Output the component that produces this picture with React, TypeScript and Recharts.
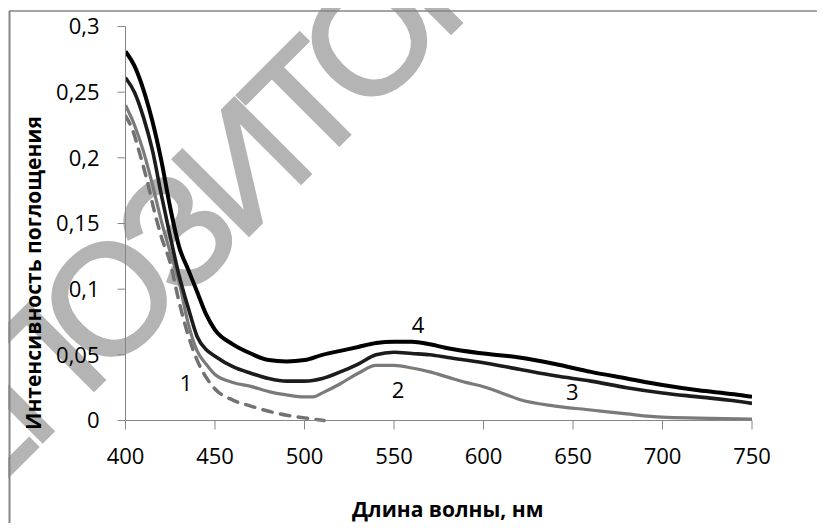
import { Label, Line, LineChart, ReferenceDot, XAxis, YAxis } from 'recharts';

// wavelength, nm -> absorbance
const curve1 = [
  [400, 0.232], [404, 0.221], [408, 0.203], [412, 0.183], [416, 0.16], [420, 0.14],
  [425, 0.12], [430, 0.09], [435, 0.065], [440, 0.046], [445, 0.033], [450, 0.024],
  [460, 0.0155], [470, 0.011], [480, 0.007], [490, 0.004], [500, 0.002], [511, 0],
];
const curve2 = [
  [400, 0.24], [405, 0.225], [410, 0.205], [415, 0.18], [420, 0.152], [425, 0.128],
  [430, 0.105], [435, 0.074], [440, 0.053], [445, 0.043], [450, 0.035], [460, 0.029],
  [470, 0.026], [480, 0.022], [490, 0.0195], [500, 0.018], [505, 0.018], [510, 0.021],
  [520, 0.028], [530, 0.036], [540, 0.042], [550, 0.042], [560, 0.04], [570, 0.037],
  [580, 0.033], [590, 0.029], [600, 0.0257], [610, 0.021], [620, 0.016], [640, 0.011],
  [660, 0.008], [680, 0.005], [700, 0.0025], [720, 0.0018], [750, 0.001],
];
const curve3 = [
  [400, 0.261], [405, 0.25], [410, 0.231], [415, 0.206], [420, 0.172], [425, 0.14],
  [430, 0.11], [435, 0.086], [440, 0.064], [445, 0.054], [450, 0.049], [460, 0.041],
  [470, 0.036], [480, 0.032], [490, 0.03], [500, 0.03], [510, 0.032], [520, 0.037],
  [530, 0.043], [540, 0.05], [550, 0.052], [560, 0.051], [570, 0.05], [580, 0.048],
  [600, 0.044], [620, 0.039], [640, 0.034], [660, 0.03], [680, 0.025], [700, 0.021],
  [720, 0.018], [740, 0.015], [750, 0.013],
];
const curve4 = [
  [400, 0.281], [405, 0.27], [410, 0.252], [415, 0.228], [420, 0.198], [425, 0.162],
  [430, 0.132], [435, 0.115], [440, 0.098], [445, 0.081], [450, 0.069], [460, 0.058],
  [470, 0.051], [480, 0.046], [490, 0.045], [500, 0.046], [510, 0.05], [520, 0.053],
  [530, 0.056], [540, 0.059], [550, 0.06], [560, 0.06], [570, 0.058], [580, 0.055],
  [600, 0.051], [620, 0.048], [640, 0.043], [660, 0.037], [680, 0.032], [700, 0.027],
  [720, 0.023], [740, 0.02], [750, 0.018],
];

const xTicks = [400, 450, 500, 550, 600, 650, 700, 750];
const yTicks = [0, 0.05, 0.1, 0.15, 0.2, 0.25, 0.3];

// curve number labels, placed in data units
const curveLabels = [
  { text: '1', x: 433.8, y: 0.0284 },
  { text: '2', x: 552.3, y: 0.0232 },
  { text: '3', x: 649.6, y: 0.0219 },
  { text: '4', x: 563.4, y: 0.0727 },
];

const toRows = (pts: number[][]) => pts.map(([x, y]) => ({ x, y }));

const font = '"Open Sans", sans-serif';
const axisGray = '#868686';

export default function App() {
  return (
    <div style={{ position: 'relative', width: 825, height: 531, margin: -8, background: '#fff' }}>
      <svg width={825} height={531} style={{ position: 'absolute', left: 0, top: 0 }}>
        {/* watermark behind the chart */}
        <text
          transform="translate(238 170) rotate(-45)"
          fontSize={156}
          letterSpacing={-12}
          fontFamily='"Liberation Sans", sans-serif'
          fill="#b4b4b4"
          stroke="#b4b4b4"
          strokeWidth={3}
          textAnchor="middle"
          dominantBaseline="central"
        >
          РЕПОЗИТОРИЙ
        </text>
        <line x1={9} y1={11} x2={825} y2={11} stroke={axisGray} strokeWidth={1.5} />
        <line x1={9.5} y1={11} x2={9.5} y2={531} stroke={axisGray} strokeWidth={2} />
        <text
          transform="translate(41 273) rotate(-90)"
          fontSize={21}
          fontFamily={font}
          fontWeight="bold"
          textAnchor="middle"
          fill="#000"
        >
          Интенсивность поглощения
        </text>
      </svg>
      <div style={{ position: 'absolute', left: 0, top: 0 }}>
        <LineChart width={825} height={531} margin={{ top: 26.5, right: 73, left: 0, bottom: 80.5 }}>
          <XAxis
            type="number"
            dataKey="x"
            domain={[400, 750]}
            ticks={xTicks}
            allowDataOverflow
            height={30}
            stroke={axisGray}
            tickSize={9}
            tickMargin={18.5}
            tick={{ fill: '#000', fontSize: 22, fontFamily: font }}
          >
            <Label
              value="Длина волны, нм"
              position="bottom"
              offset={0}
              dx={9}
              dy={52}
              style={{ fontSize: 21, fontFamily: font, fontWeight: 'bold', fill: '#000' }}
            />
          </XAxis>
          <YAxis
            type="number"
            domain={[0, 0.3]}
            ticks={yTicks}
            width={125.5}
            stroke={axisGray}
            tickSize={8}
            tickMargin={18}
            tickFormatter={(v: number) => String(v).replace('.', ',')}
            tick={{ fill: '#000', fontSize: 22, fontFamily: font }}
          />
          <Line
            data={toRows(curve1)}
            dataKey="y"
            type="monotone"
            stroke="#727272"
            strokeWidth={3.5}
            strokeDasharray="9.5 8.5"
            strokeLinecap="round"
            dot={false}
            isAnimationActive={false}
          />
          <Line
            data={toRows(curve2)}
            dataKey="y"
            type="monotone"
            stroke="#7a7a7a"
            strokeWidth={3.2}
            dot={false}
            isAnimationActive={false}
          />
          <Line
            data={toRows(curve3)}
            dataKey="y"
            type="monotone"
            stroke="#1c1c1c"
            strokeWidth={3.6}
            dot={false}
            isAnimationActive={false}
          />
          <Line
            data={toRows(curve4)}
            dataKey="y"
            type="monotone"
            stroke="#000"
            strokeWidth={4}
            dot={false}
            isAnimationActive={false}
          />
          {curveLabels.map((l) => (
            <ReferenceDot
              key={l.text}
              x={l.x}
              y={l.y}
              r={1}
              fill="none"
              stroke="none"
              ifOverflow="visible"
              label={{
                value: l.text,
                position: 'center',
                fill: '#000',
                fontSize: 22,
                fontFamily: font,
              }}
            />
          ))}
        </LineChart>
      </div>
    </div>
  );
}
